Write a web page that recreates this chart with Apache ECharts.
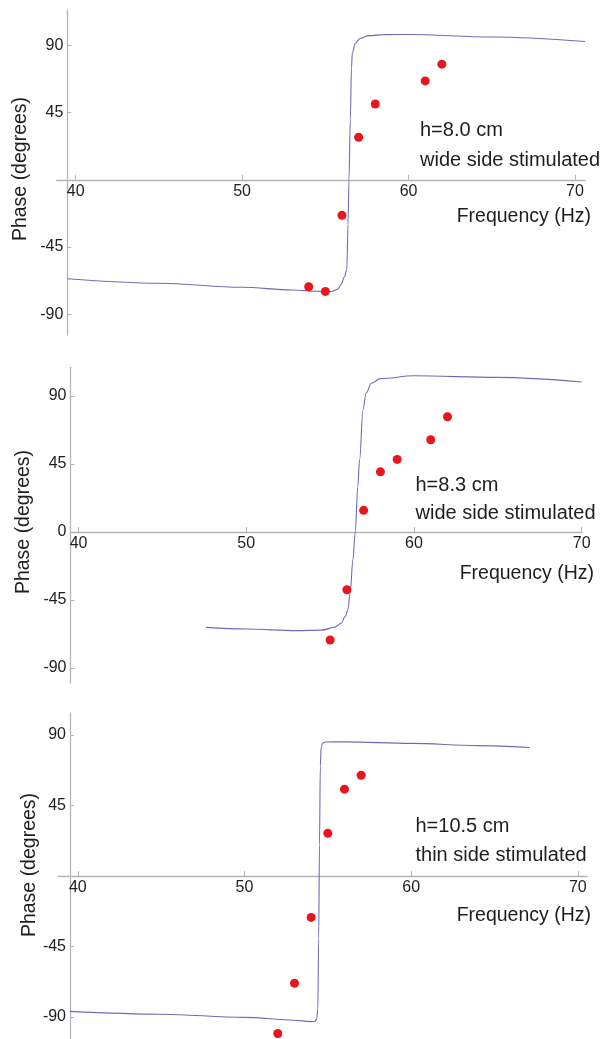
<!DOCTYPE html>
<html>
<head>
<meta charset="utf-8">
<script src="https://cdn.jsdelivr.net/npm/echarts@6/dist/echarts.min.js"></script>
<style>
html,body{margin:0;padding:0;background:#fff;}
#chart{width:609px;height:1039px;}
</style>
</head>
<body>
<div id="chart"></div>
<script>
// ---- Data ----
const xTickValues = [40, 50, 60, 70];
const yTicksA = [-90, -45, 45, 90];
const yTicksB = [-90, -45, 0, 45, 90];

// Panel 1: h=8.0 cm, wide side stimulated
const p1Freq = [54, 55, 56, 57, 58, 61, 62];
const p1Phase = [-71.7, -74.8, -23.8, 28.5, 50.8, 66.3, 77.5];
const p1CurveF = [39.5, 45, 50, 53, 54.5, 55.4, 55.75, 55.95, 56.15, 56.29, 56.36, 56.42, 56.5, 56.57, 56.62, 56.8, 57.1, 57.6, 58.5, 60, 65, 70.6];
const p1CurveP = [-66.3, -69.3, -72, -73.8, -74.7, -74.8, -73.3, -70, -65, -60, -30, 0, 40, 75, 85, 91.5, 94.8, 96.6, 97.3, 97.4, 95.7, 92.7];

// Panel 2: h=8.3 cm, wide side stimulated
const p2Freq = [55, 56, 57, 58, 59, 61, 62];
const p2Phase = [-71.5, -38.3, 14.3, 39.8, 48.0, 61.0, 76.3];
const p2CurveF = [47.6, 50, 53, 54.5, 55.3, 55.66, 55.9, 56.06, 56.2, 56.36, 56.5, 56.65, 56.76, 56.96, 57.15, 57.46, 58, 60, 65, 70];
const p2CurveP = [-63.2, -64.3, -65.3, -65, -63, -60.4, -56, -51.4, -40, -18.3, 0, 30, 47.8, 81, 92, 98.4, 101.5, 103.4, 102.3, 99.3];

// Panel 3: h=10.5 cm, thin side stimulated
const p3Freq = [52, 53, 54, 55, 56, 57];
const p3Phase = [-100.5, -68.4, -26.4, 27.2, 55.4, 64.3];
const p3CurveF = [39.53, 45, 50, 53, 54.0, 54.2, 54.33, 54.4, 54.45, 54.5, 54.55, 54.6, 54.7, 54.85, 56, 60, 64, 67.1];
const p3CurveP = [-86.4, -88.2, -90.2, -92, -92.9, -92.8, -91.5, -85, -40, 20, 70, 82.5, 84.8, 85.5, 85.6, 84.6, 83.2, 82];

const panelNotes = [["h=8.0 cm", "wide side stimulated"], ["h=8.3 cm", "wide side stimulated"], ["h=10.5 cm", "thin side stimulated"]];
const xName = "Frequency (Hz)";
const yName = "Phase (degrees)";

// ---- Build chart ----
const FONT = '"Liberation Sans", Arial, sans-serif';
const AX = '#b4b4b8';
const TXT = '#1e1e1e';
const CURVE = '#6c6cb6';
const DOT = '#e8141e';
const H = 1039;

function zip(a, b) { return a.map((v, i) => [v, b[i]]); }

const grids = [
  {left: 56.7, right: 24, top: 10, bottom: 704},
  {left: 70.5, right: 27, top: 367.3, bottom: 356},
  {left: 58.3, right: 22, top: 713, bottom: 0}
];
const xr = [[38.86, 70.6], [39.52, 70.02], [38.83, 70.55]];
const yr = [[-104, 113.8], [-100, 109], [-104, 104]];
const yOff = [-10.6, 0, -11.7];
const yTicks = [yTicksA, yTicksB, yTicksA];

const xAxes = [], yAxes = [];
for (let i = 0; i < 3; i++) {
  // place the x axis on the zero line of the phase axis (shift up from the grid bottom)
  const g = grids[i];
  const gh = H - g.top - g.bottom;
  const zeroFromBottom = gh * (0 - yr[i][0]) / (yr[i][1] - yr[i][0]);
  xAxes.push({
    type: 'value', gridIndex: i, min: xr[i][0], max: xr[i][1],
    position: 'bottom', offset: -zeroFromBottom,
    axisLine: {onZero: false, lineStyle: {color: AX, width: 1.3}},
    axisTick: {show: true, inside: true, length: 5, customValues: xTickValues, lineStyle: {color: AX}},
    axisLabel: {customValues: xTickValues, margin: 4, fontSize: 16, color: TXT, fontFamily: FONT},
    splitLine: {show: false}
  });
  yAxes.push({
    type: 'value', gridIndex: i, min: yr[i][0], max: yr[i][1], offset: yOff[i],
    axisLine: {show: true, onZero: false, lineStyle: {color: AX, width: 1.3}},
    axisTick: {show: true, inside: true, length: 4, customValues: yTicks[i], lineStyle: {color: AX}},
    axisLabel: {customValues: yTicks[i], margin: 4, fontSize: 16, color: TXT, fontFamily: FONT},
    splitLine: {show: false}
  });
}

const curves = [zip(p1CurveF, p1CurveP), zip(p2CurveF, p2CurveP), zip(p3CurveF, p3CurveP)];
const dots = [zip(p1Freq, p1Phase), zip(p2Freq, p2Phase), zip(p3Freq, p3Phase)];
const series = [];
for (let i = 0; i < 3; i++) {
  series.push({
    type: 'line', xAxisIndex: i, yAxisIndex: i, data: curves[i],
    showSymbol: false, smooth: 0.35, smoothMonotone: 'x',
    lineStyle: {color: CURVE, width: 1.1}, silent: true, z: 2
  });
  series.push({
    type: 'scatter', xAxisIndex: i, yAxisIndex: i, data: dots[i],
    symbolSize: 9, itemStyle: {color: DOT, opacity: 1}, z: 3
  });
}

const yNamePos = [[21, 169], [24, 522], [30, 865]];
const xNamePos = [[591, 216.7], [594, 573.3], [591, 915.3]];
const notePos = [[420, 130.7, 160.3], [415.5, 485, 513.3], [415.5, 826.7, 855.7]];
const graphic = [];
for (let i = 0; i < 3; i++) {
  graphic.push({type: 'text', x: yNamePos[i][0], y: yNamePos[i][1], rotation: Math.PI / 2,
    style: {text: yName, font: '19.5px ' + FONT, fill: TXT, align: 'center', verticalAlign: 'middle'}});
  graphic.push({type: 'text', x: xNamePos[i][0], y: xNamePos[i][1],
    style: {text: xName, font: '19.5px ' + FONT, fill: TXT, align: 'right', verticalAlign: 'middle'}});
  graphic.push({type: 'text', x: notePos[i][0], y: notePos[i][1],
    style: {text: panelNotes[i][0], font: '20px ' + FONT, fill: TXT, align: 'left', verticalAlign: 'middle'}});
  graphic.push({type: 'text', x: notePos[i][0], y: notePos[i][2],
    style: {text: panelNotes[i][1], font: '20px ' + FONT, fill: TXT, align: 'left', verticalAlign: 'middle'}});
}

const chart = echarts.init(document.getElementById('chart'), null, {renderer: 'canvas'});
chart.setOption({
  animation: false,
  backgroundColor: '#ffffff',
  grid: grids,
  xAxis: xAxes,
  yAxis: yAxes,
  series: series,
  graphic: graphic
});
</script>
</body>
</html>
